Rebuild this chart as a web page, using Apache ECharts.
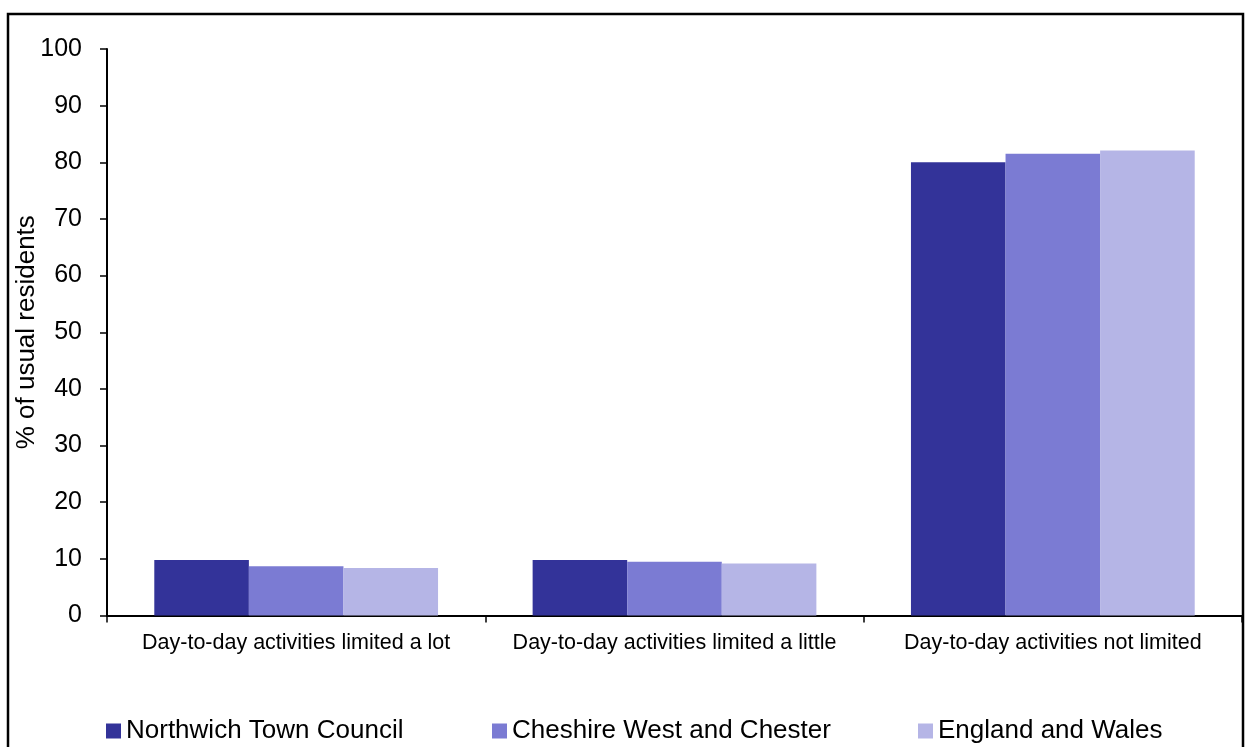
<!DOCTYPE html>
<html>
<head>
<meta charset="utf-8">
<script src="https://cdn.jsdelivr.net/npm/echarts@6/dist/echarts.min.js"></script>
<style>
html,body{margin:0;padding:0;background:#fff;}
#chart{width:1245px;height:747px;}
</style>
</head>
<body>
<div id="chart"></div>
<script>
const categories = ['Day-to-day activities limited a lot', 'Day-to-day activities limited a little', 'Day-to-day activities not limited'];
const seriesNames = ['Northwich Town Council', 'Cheshire West and Chester', 'England and Wales'];
const northwich = [9.8, 9.8, 80.0];
const cheshire = [8.7, 9.5, 81.5];
const englandWales = [8.4, 9.2, 82.1];
const yTicks = [0, 10, 20, 30, 40, 50, 60, 70, 80, 90, 100];
const colors = ['#333399', '#7B7BD3', '#B5B5E6'];

const font = '"Liberation Sans", Arial, sans-serif';
const chart = echarts.init(document.getElementById('chart'));
const values = [northwich, cheshire, englandWales];
const legendLefts = [106, 492, 918];

chart.setOption({
  animation: false,
  textStyle: { fontFamily: font, color: '#000' },
  grid: { left: 107, top: 49, right: 3, bottom: 131.5, containLabel: false, outerBoundsMode: 'none' },
  graphic: [{
    type: 'rect',
    shape: { x: 8, y: 14, width: 1235, height: 760 },
    style: { fill: 'none', stroke: '#000', lineWidth: 2.5 },
    silent: true
  }],
  legend: seriesNames.map((n, i) => ({
    data: [n],
    left: legendLefts[i],
    top: 718,
    padding: 0,
    itemWidth: 15,
    itemHeight: 15,
    icon: 'rect',
    selectedMode: false,
    textStyle: { fontFamily: font, fontSize: 26, color: '#000' }
  })),
  xAxis: {
    type: 'category',
    data: categories,
    axisLine: { lineStyle: { color: '#000', width: 2 } },
    axisTick: { show: true, length: 7, lineStyle: { color: '#000', width: 1.5 } },
    axisLabel: { fontFamily: font, fontSize: 21.5, color: '#000', margin: 17, interval: 0 }
  },
  yAxis: {
    type: 'value',
    min: yTicks[0],
    max: yTicks[yTicks.length - 1],
    interval: 10,
    name: '% of usual residents',
    nameLocation: 'middle',
    nameRotate: 90,
    nameGap: 67,
    nameMoveOverlap: false,
    nameTextStyle: { fontFamily: font, fontSize: 26, color: '#000' },
    axisLine: { show: true, lineStyle: { color: '#000', width: 2 } },
    axisTick: { show: true, length: 7, lineStyle: { color: '#000', width: 1.5 } },
    axisLabel: { fontFamily: font, fontSize: 25, color: '#000', margin: 25 },
    splitLine: { show: false }
  },
  series: seriesNames.map((n, i) => ({
    name: n,
    type: 'bar',
    data: values[i],
    barGap: '0%',
    barCategoryGap: '25%',
    itemStyle: { color: colors[i] }
  }))
});
</script>
</body>
</html>
